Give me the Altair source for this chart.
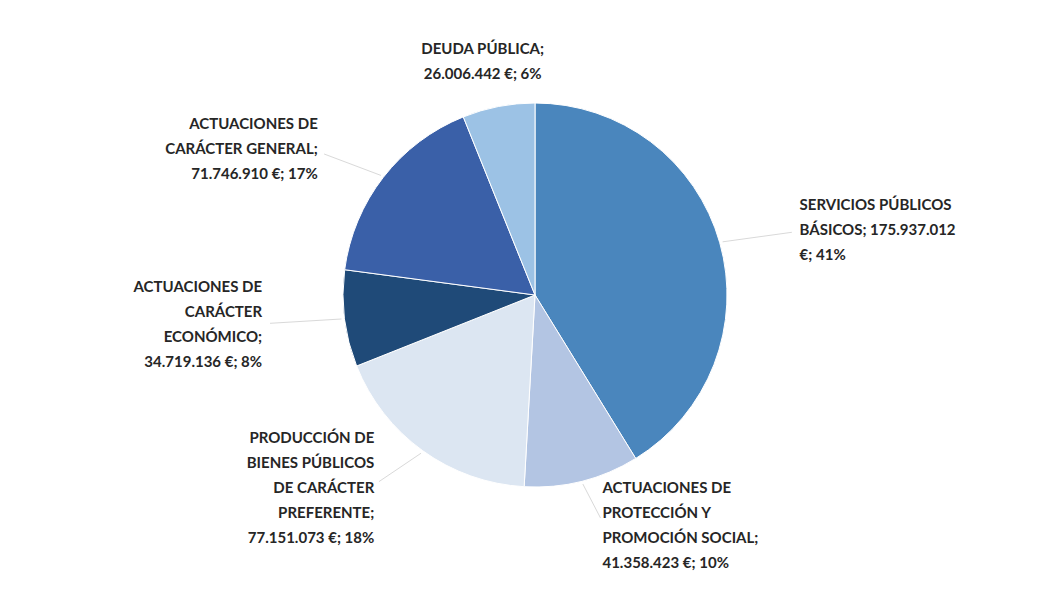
import altair as alt
import pandas as pd

categories = [
    "SERVICIOS PÚBLICOS BÁSICOS",
    "ACTUACIONES DE PROTECCIÓN Y PROMOCIÓN SOCIAL",
    "PRODUCCIÓN DE BIENES PÚBLICOS DE CARÁCTER PREFERENTE",
    "ACTUACIONES DE CARÁCTER ECONÓMICO",
    "ACTUACIONES DE CARÁCTER GENERAL",
    "DEUDA PÚBLICA",
]
label_texts = [
    "SERVICIOS PÚBLICOS\nBÁSICOS; 175.937.012\n€; 41%",
    "ACTUACIONES DE\nPROTECCIÓN Y\nPROMOCIÓN SOCIAL;\n41.358.423 €; 10%",
    "PRODUCCIÓN DE\nBIENES PÚBLICOS\nDE CARÁCTER\nPREFERENTE;\n77.151.073 €; 18%",
    "ACTUACIONES DE\nCARÁCTER\nECONÓMICO;\n34.719.136 €; 8%",
    "ACTUACIONES DE\nCARÁCTER GENERAL;\n71.746.910 €; 17%",
    "DEUDA PÚBLICA;\n26.006.442 €; 6%",
]
values = [175937012, 41358423, 77151073, 34719136, 71746910, 26006442]
colors = ["#4a86bd", "#b3c5e3", "#dce6f2", "#1f4a78", "#3a60a8", "#9cc2e5"]

df = pd.DataFrame({
    "category": categories,
    "label": label_texts,
    "value": values,
    "order": list(range(len(values))),
})

CX, CY = 527, 287
R = 192
A, B = 275, 238   # label ellipse semi-axes
LH = 25

base = alt.Chart(df)

pie = base.mark_arc(radius=R, stroke="white", strokeWidth=1).encode(
    theta=alt.Theta("value:Q", stack=True),
    color=alt.Color("category:N", scale=alt.Scale(domain=categories, range=colors), legend=None),
    order=alt.Order("order:Q", sort="ascending"),
    x=alt.value(CX),
    y=alt.value(CY),
)

lab = base.transform_window(
    cum="sum(value)", frame=[None, 0], sort=[{"field": "order"}]
).transform_joinaggregate(
    total="sum(value)"
).transform_calculate(
    mid="(datum.cum - datum.value / 2) / datum.total",
).transform_calculate(
    ang="datum.mid * 2 * PI",
    nl="split(datum.label, '\\n').length",
).transform_calculate(
    px=f"{CX} + {A} * sin(datum.ang)",
    py=f"{CY} - {B} * cos(datum.ang) - (datum.nl - 1) * {LH} / 2",
    ex=f"{CX} + {R + 3} * sin(datum.ang)",
    ey=f"{CY} - {R + 3} * cos(datum.ang)",
    lx=f"{CX} + {A - 8} * sin(datum.ang)",
    ly=f"{CY} - {B - 8} * cos(datum.ang)",
)

leaders = lab.transform_filter("datum.mid < 0.95").mark_rule(color="#d9d9d9", strokeWidth=1).encode(
    x=alt.X("ex:Q", scale=None, axis=None),
    y=alt.Y("ey:Q", scale=None, axis=None),
    x2="lx:Q",
    y2="ly:Q",
)

text_kw = dict(lineBreak="\n", font="Lato", fontSize=15, fontWeight="bold",
               color="#262626", lineHeight=LH, baseline="middle")

def text_layer(filt, align):
    return lab.transform_filter(filt).mark_text(align=align, **text_kw).encode(
        x=alt.X("px:Q", scale=None, axis=None),
        y=alt.Y("py:Q", scale=None, axis=None),
        text="label:N",
    )

right = text_layer("datum.mid < 0.5", "left")
left = text_layer("datum.mid >= 0.5 && datum.mid < 0.95", "right")
top = text_layer("datum.mid >= 0.95", "center")

chart = alt.layer(pie, leaders, right, left, top).resolve_scale(theta="independent").properties(
    width=1032, height=590,
    autosize=alt.AutoSizeParams(type="fit", contains="padding"),
    padding=0,
).configure_view(stroke=None)

chart.save("out.html", embed_options={"renderer": "svg", "actions": False})
